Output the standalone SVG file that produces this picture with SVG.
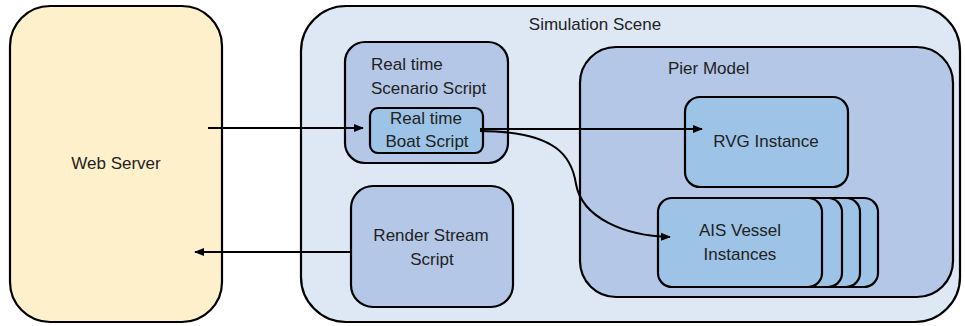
<svg xmlns="http://www.w3.org/2000/svg" width="965" height="326" viewBox="0 0 965 326">
  <style>
    .box { stroke: #000; stroke-width: 2.2; }
    .server { fill: #FFF0CC; }
    .scene { fill: #DEE8F5; }
    .mid { fill: #B4C7E7; }
    .inner { fill: #9DC3E6; }
    .label { font-family: "Liberation Sans", Arial, sans-serif; font-size: 17px; fill: #222; }
    .mid-t { text-anchor: middle; }
    .conn { fill: none; stroke: #000; stroke-width: 2; }
  </style>
  <defs>
    <marker id="arrow" viewBox="0 0 10 10" refX="9" refY="5" markerWidth="5" markerHeight="5" orient="auto" markerUnits="strokeWidth">
      <path d="M0,1 L10,5 L0,9 Z" fill="#000"/>
    </marker>
  </defs>

  <g id="web-server">
    <rect class="box server" x="10" y="6" width="212" height="316" rx="40" ry="40"/>
    <text class="label mid-t" x="116" y="169">Web Server</text>
  </g>

  <g id="simulation-scene">
    <rect class="box scene" x="301" y="6" width="659" height="316" rx="45" ry="45"/>
    <text class="label mid-t" x="595" y="30">Simulation Scene</text>
  </g>

  <g id="scenario-script">
    <rect class="box mid" x="345" y="42" width="163" height="121" rx="20" ry="20"/>
    <text class="label" x="371" y="70">Real time</text>
    <text class="label" x="371" y="94">Scenario Script</text>
  </g>

  <g id="boat-script">
    <rect class="box inner" x="370" y="108" width="113" height="45" rx="8" ry="8"/>
    <text class="label mid-t" x="426" y="124">Real time</text>
    <text class="label mid-t" x="427" y="147">Boat Script</text>
  </g>

  <g id="render-stream-script">
    <rect class="box mid" x="351" y="186" width="162" height="121" rx="22" ry="22"/>
    <text class="label mid-t" x="431" y="241">Render Stream</text>
    <text class="label mid-t" x="432" y="265">Script</text>
  </g>

  <g id="pier-model">
    <rect class="box mid" x="580" y="47" width="373" height="250" rx="36" ry="36"/>
    <text class="label" x="668" y="74">Pier Model</text>
  </g>

  <g id="rvg-instance">
    <rect class="box inner" x="685" y="97" width="163" height="90" rx="15" ry="15"/>
    <text class="label mid-t" x="766" y="147">RVG Instance</text>
  </g>

  <g id="ais-vessel-instances">
    <rect class="box inner" x="712" y="198" width="166" height="89" rx="14" ry="14"/>
    <rect class="box inner" x="694" y="198" width="166" height="89" rx="14" ry="14"/>
    <rect class="box inner" x="676" y="198" width="166" height="89" rx="14" ry="14"/>
    <rect class="box inner" x="658" y="198" width="164" height="89" rx="14" ry="14"/>
    <text class="label mid-t" x="740" y="236">AIS Vessel</text>
    <text class="label mid-t" x="740" y="260">Instances</text>
  </g>

  <g id="connectors">
    <path class="conn" d="M208,128 L363,128" marker-end="url(#arrow)"/>
    <path class="conn" d="M352,252 L195,252" marker-end="url(#arrow)"/>
    <path class="conn" d="M480,129 L702,129" marker-end="url(#arrow)"/>
    <path class="conn" d="M480,131 C558,131 572,158 576,184 C582,218 625,236 670,237" marker-end="url(#arrow)"/>
  </g>
</svg>
